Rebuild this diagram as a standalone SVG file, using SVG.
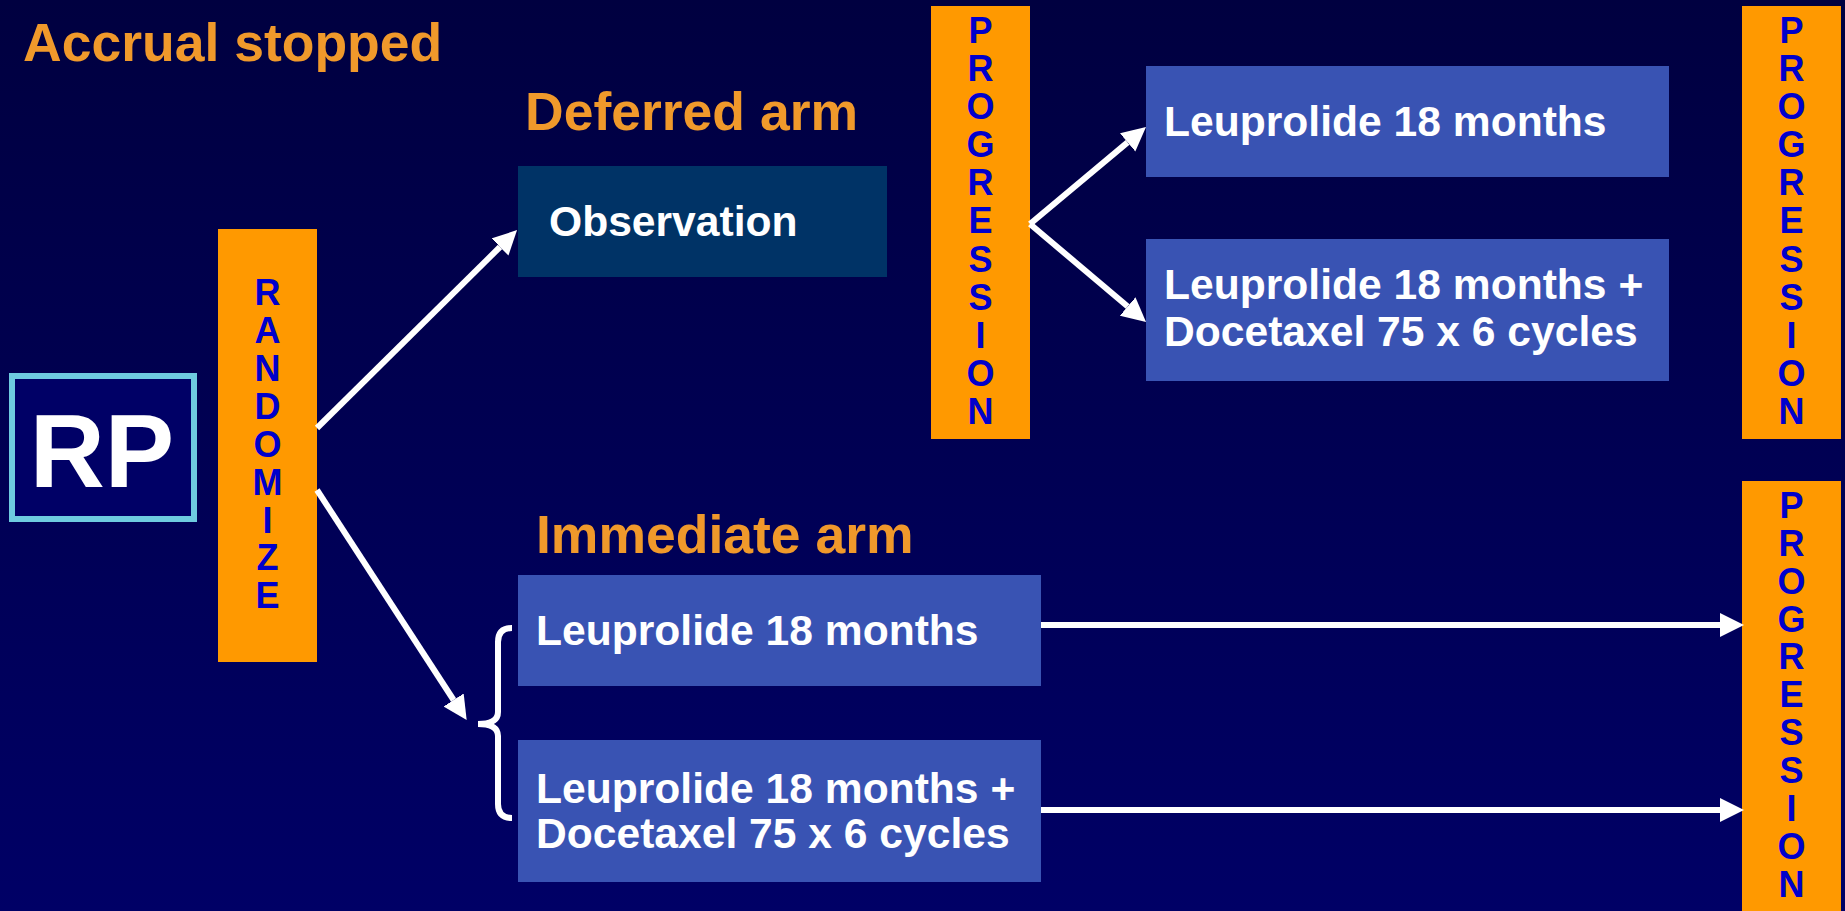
<svg xmlns="http://www.w3.org/2000/svg" width="1845" height="911" viewBox="0 0 1845 911">
  <defs>
    <linearGradient id="bg" x1="0" y1="0" x2="0" y2="1">
      <stop offset="0" stop-color="#000040"/>
      <stop offset="1" stop-color="#000066"/>
    </linearGradient>
    <marker id="arrow" viewBox="0 0 10 10" refX="0" refY="5" markerWidth="4" markerHeight="4.2" orient="auto" markerUnits="strokeWidth">
      <path d="M0,0 L10,5 L0,10 z" fill="#ffffff"/>
    </marker>
    <style>
      .head { font-family: "Liberation Sans", Arial, sans-serif; font-weight: bold; font-size: 53.5px; fill: #F0992B; }
      .boxtxt { font-family: "Liberation Sans", Arial, sans-serif; font-weight: bold; font-size: 42.6px; fill: #ffffff; }
      .bar { fill: #FF9900; }
      .vtxt { font-family: "Liberation Sans", Arial, sans-serif; font-weight: bold; font-size: 36px; fill: #0000CC; text-anchor: middle; }
      .blue { fill: #3953B3; }
      .conn { stroke: #ffffff; stroke-width: 6; fill: none; }
    </style>
  </defs>
  <rect x="0" y="0" width="1845" height="911" fill="url(#bg)"/>

  <text class="head" x="23" y="61" font-size="54.2">Accrual stopped</text>
  <text class="head" x="525" y="130">Deferred arm</text>
  <text class="head" x="536" y="553">Immediate arm</text>

  <g id="rp">
    <rect x="12" y="376" width="182" height="143" fill="#000066" stroke="#6ECBE0" stroke-width="6"/>
    <text x="102" y="487" font-family="Liberation Sans, Arial, sans-serif" font-weight="bold" font-size="104" fill="#ffffff" text-anchor="middle">RP</text>
  </g>

  <g id="randomize">
    <rect class="bar" x="218" y="229" width="99" height="433"/>
    <text class="vtxt" x="267.5" y="305">R</text>
    <text class="vtxt" x="267.5" y="343">A</text>
    <text class="vtxt" x="267.5" y="381">N</text>
    <text class="vtxt" x="267.5" y="419">D</text>
    <text class="vtxt" x="267.5" y="457">O</text>
    <text class="vtxt" x="267.5" y="495">M</text>
    <text class="vtxt" x="267.5" y="533">I</text>
    <text class="vtxt" x="267.5" y="570">Z</text>
    <text class="vtxt" x="267.5" y="608">E</text>
  </g>

  <g id="observation">
    <rect x="518" y="166" width="369" height="111" fill="#003366"/>
    <text class="boxtxt" x="549" y="236">Observation</text>
  </g>

  <g id="progression1">
    <rect class="bar" x="931" y="6" width="99" height="433"/>
    <text class="vtxt" x="980.5" y="43">P</text>
    <text class="vtxt" x="980.5" y="81">R</text>
    <text class="vtxt" x="980.5" y="119">O</text>
    <text class="vtxt" x="980.5" y="157">G</text>
    <text class="vtxt" x="980.5" y="195">R</text>
    <text class="vtxt" x="980.5" y="233">E</text>
    <text class="vtxt" x="980.5" y="272">S</text>
    <text class="vtxt" x="980.5" y="310">S</text>
    <text class="vtxt" x="980.5" y="348">I</text>
    <text class="vtxt" x="980.5" y="386">O</text>
    <text class="vtxt" x="980.5" y="424">N</text>
  </g>

  <g id="deferred-leuprolide">
    <rect class="blue" x="1146" y="66" width="523" height="111"/>
    <text class="boxtxt" x="1164" y="136">Leuprolide 18 months</text>
  </g>

  <g id="deferred-combo">
    <rect class="blue" x="1146" y="239" width="523" height="142"/>
    <text class="boxtxt" x="1164" y="299">Leuprolide 18 months +</text>
    <text class="boxtxt" x="1164" y="346">Docetaxel 75 x 6 cycles</text>
  </g>

  <g id="progression2">
    <rect class="bar" x="1742" y="6" width="99" height="433"/>
    <text class="vtxt" x="1791.5" y="43">P</text>
    <text class="vtxt" x="1791.5" y="81">R</text>
    <text class="vtxt" x="1791.5" y="119">O</text>
    <text class="vtxt" x="1791.5" y="157">G</text>
    <text class="vtxt" x="1791.5" y="195">R</text>
    <text class="vtxt" x="1791.5" y="233">E</text>
    <text class="vtxt" x="1791.5" y="272">S</text>
    <text class="vtxt" x="1791.5" y="310">S</text>
    <text class="vtxt" x="1791.5" y="348">I</text>
    <text class="vtxt" x="1791.5" y="386">O</text>
    <text class="vtxt" x="1791.5" y="424">N</text>
  </g>

  <g id="immediate-leuprolide">
    <rect class="blue" x="518" y="575" width="523" height="111"/>
    <text class="boxtxt" x="536" y="645">Leuprolide 18 months</text>
  </g>

  <g id="immediate-combo">
    <rect class="blue" x="518" y="740" width="523" height="142"/>
    <text class="boxtxt" x="536" y="803">Leuprolide 18 months +</text>
    <text class="boxtxt" x="536" y="848">Docetaxel 75 x 6 cycles</text>
  </g>

  <g id="progression3">
    <rect class="bar" x="1742" y="481" width="99" height="440"/>
    <text class="vtxt" x="1791.5" y="518">P</text>
    <text class="vtxt" x="1791.5" y="556">R</text>
    <text class="vtxt" x="1791.5" y="594">O</text>
    <text class="vtxt" x="1791.5" y="632">G</text>
    <text class="vtxt" x="1791.5" y="669">R</text>
    <text class="vtxt" x="1791.5" y="707">E</text>
    <text class="vtxt" x="1791.5" y="745">S</text>
    <text class="vtxt" x="1791.5" y="783">S</text>
    <text class="vtxt" x="1791.5" y="821">I</text>
    <text class="vtxt" x="1791.5" y="859">O</text>
    <text class="vtxt" x="1791.5" y="897">N</text>
  </g>

  <g id="connectors">
    <line class="conn" x1="317" y1="428" x2="500" y2="247" marker-end="url(#arrow)"/>
    <line class="conn" x1="317" y1="490" x2="453.6" y2="700" marker-end="url(#arrow)"/>
    <path class="conn" d="M512,628 Q498,628 498,642 L498,712 Q498,724 478,724 Q498,724 498,736 L498,804 Q498,818 512,818"/>
    <line class="conn" x1="1030" y1="224" x2="1127.6" y2="142.4" marker-end="url(#arrow)"/>
    <line class="conn" x1="1030" y1="224" x2="1127.7" y2="306.5" marker-end="url(#arrow)"/>
    <line class="conn" x1="1041" y1="625" x2="1720" y2="625" marker-end="url(#arrow)"/>
    <line class="conn" x1="1041" y1="810" x2="1720" y2="810" marker-end="url(#arrow)"/>
  </g>
</svg>
